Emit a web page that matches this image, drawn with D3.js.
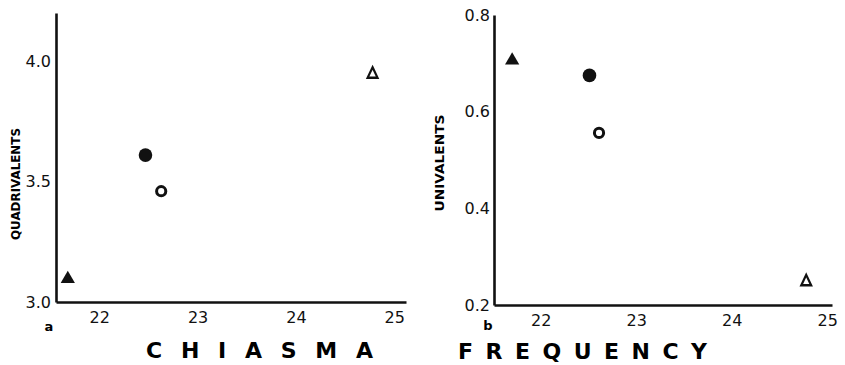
<!DOCTYPE html>
<html>
<head>
<meta charset="utf-8">
<script src="https://cdn.jsdelivr.net/npm/d3@7"></script>
<style>
    body { margin: 0; background: #fff; }
    svg { display: block; }
    .tick text { font-family: "DejaVu Sans", sans-serif; font-size: 16px; fill: #111; }
</style>
</head>
<body>
<svg id="chart" width="845" height="365"></svg>
<script>

// panel a: chiasma frequency vs quadrivalents
const chiasmaA = [21.68, 22.47, 22.63, 24.78];
const quadrivalents = [3.10, 3.61, 3.46, 3.95];
// panel b: chiasma frequency vs univalents
const chiasmaB = [21.70, 22.51, 22.61, 24.78];
const univalents = [0.708, 0.675, 0.556, 0.25];
// marker kind for each group, same order in both panels
const markers = ['filledTriangle', 'filledCircle', 'openCircle', 'openTriangle'];

const xTicks = [22, 23, 24, 25];
const yTicksA = [3.0, 3.5, 4.0];
const yTicksB = [0.2, 0.4, 0.6, 0.8];

const svg = d3.select('#chart');

function drawPanel (opts) {
    var g = svg.append('g');

    var x = d3.scaleLinear().domain(opts.xDomain).range(opts.xRange);
    var y = d3.scaleLinear().domain(opts.yDomain).range(opts.yRange);

    g.append('g')
        .attr('transform', 'translate(0,' + opts.yRange[0] + ')')
        .call(d3.axisBottom(x).tickValues(xTicks).tickSize(0).tickPadding(10)
            .tickFormat(d3.format('d')));

    g.append('g')
        .attr('transform', 'translate(' + opts.xRange[0] + ',0)')
        .call(d3.axisLeft(y).tickValues(opts.yTicks).tickSize(0).tickPadding(opts.yPad)
            .tickFormat(d3.format('.1f')));

    g.selectAll('.domain').attr('stroke', '#111').attr('stroke-width', 2.6);

    // axis title, rotated
    g.append('text')
        .attr('transform', 'translate(' + opts.yTitleX + ',' + opts.yTitleY + ') rotate(-90)')
        .attr('text-anchor', 'middle')
        .attr('dy', '0.35em')
        .attr('textLength', opts.yTitleLen)
        .attr('lengthAdjust', 'spacingAndGlyphs')
        .style('font-family', 'DejaVu Sans, sans-serif')
        .style('font-size', '12px')
        .style('font-weight', 'bold')
        .text(opts.yTitle);

    // panel letter
    g.append('text')
        .attr('x', opts.letterX)
        .attr('y', opts.letterY)
        .attr('text-anchor', 'middle')
        .style('font-family', 'DejaVu Sans, sans-serif')
        .style('font-size', '13px')
        .style('font-weight', 'bold')
        .text(opts.letter);

    var pts = opts.xs.map(function (d, i) {
        return {x: d, y: opts.ys[i], kind: markers[i]};
    });

    pts.forEach(function (p) {
        var cx = x(p.x), cy = y(p.y);
        if (p.kind == 'filledCircle') {
            g.append('circle').attr('cx', cx).attr('cy', cy).attr('r', 6.8).attr('fill', '#111');
        } else if (p.kind == 'openCircle') {
            g.append('circle').attr('cx', cx).attr('cy', cy).attr('r', 4.6)
                .attr('fill', 'none').attr('stroke', '#111').attr('stroke-width', 3);
        } else if (p.kind == 'filledTriangle') {
            g.append('path')
                .attr('transform', 'translate(' + cx + ',' + (cy + 1) + ')')
                .attr('d', d3.symbol(d3.symbolTriangle, 88)())
                .attr('fill', '#111');
        } else {
            g.append('path')
                .attr('transform', 'translate(' + cx + ',' + (cy + 1) + ') scale(0.9,1.1)')
                .attr('d', d3.symbol(d3.symbolTriangle, 52)())
                .attr('fill', 'none').attr('stroke', '#111').attr('stroke-width', 2.3)
                .attr('stroke-linejoin', 'miter');
        }
    });
}

drawPanel({
    xs: chiasmaA, ys: quadrivalents,
    xDomain: [21.56, 25.12], xRange: [56, 406],
    yDomain: [3.0, 4.2], yRange: [302, 13],
    yTicks: yTicksA, yPad: 5,
    yTitle: 'QUADRIVALENTS', yTitleX: 16, yTitleY: 184, yTitleLen: 112,
    letter: 'a', letterX: 49, letterY: 331
});

drawPanel({
    xs: chiasmaB, ys: univalents,
    xDomain: [21.51, 25.05], xRange: [494, 832],
    yDomain: [0.2, 0.8], yRange: [305, 15],
    yTicks: yTicksB, yPad: 4,
    yTitle: 'UNIVALENTS', yTitleX: 440, yTitleY: 163, yTitleLen: 97,
    letter: 'b', letterX: 488, letterY: 330
});

// the big spaced caption runs across both panels
svg.append('text')
    .attr('x', 146).attr('y', 358)
    .attr('textLength', 227)
    .attr('lengthAdjust', 'spacing')
    .style('font-family', 'DejaVu Sans, sans-serif')
    .style('font-size', '22px')
    .style('font-weight', 'bold')
    .text('CHIASMA');

svg.append('text')
    .attr('x', 458).attr('y', 359)
    .attr('textLength', 249)
    .attr('lengthAdjust', 'spacing')
    .style('font-family', 'DejaVu Sans, sans-serif')
    .style('font-size', '22px')
    .style('font-weight', 'bold')
    .text('FREQUENCY');

</script>
</body>
</html>
